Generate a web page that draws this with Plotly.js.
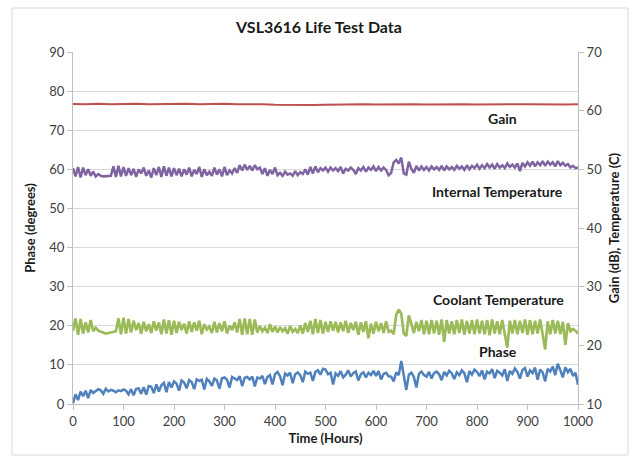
<!DOCTYPE html>
<html>
<head>
<meta charset="utf-8">
<script src="https://cdn.plot.ly/plotly-3.0.1.min.js"></script>
<style>html,body{margin:0;padding:0;background:#fff;}#chart{width:638px;height:457px;}</style>
</head>
<body>
<div id="chart"></div>
<script>
// Time step of the logged samples (hours)
const stepFine = 5;
const stepGain = 25;

// Phase (degrees), t = 0..1000 every 5 h
const phase = [
0.2,2.5,1.0,3.2,2.0,3.4,1.5,3.6,2.8,3.3,3.8,
3.5,2.6,3.9,3.2,3.6,3.4,3.0,3.5,3.3,3.7,
3.4,2.5,3.8,2.2,3.9,4.0,2.6,4.3,2.4,4.6,
4.4,2.8,5.0,3.2,4.8,5.4,3.0,5.6,4.2,5.8,
5.2,3.4,6.0,5.5,4.0,6.1,5.6,3.8,6.3,5.9,
6.2,3.7,6.4,5.8,4.6,6.5,6.0,3.9,6.6,6.8,
6.2,4.2,6.9,6.4,6.1,7.1,4.6,6.7,6.9,6.3,
7.0,4.5,6.8,6.5,7.2,5.1,6.9,7.4,5.0,7.6,
8.2,7.1,4.8,7.8,7.3,8.0,5.3,7.6,8.1,7.4,
5.6,8.3,7.7,8.0,5.9,8.2,8.6,7.5,9.0,8.8,
7.6,8.0,5.0,7.8,7.2,8.4,6.8,7.5,8.6,7.0,
7.9,8.3,6.0,7.6,8.1,6.8,8.0,7.4,8.5,7.2,
8.4,6.3,7.7,8.0,7.1,7.0,5.8,8.1,7.4,11.0,
7.2,3.6,7.5,8.0,6.9,4.2,7.7,8.3,7.4,7.0,
8.2,6.5,7.9,8.3,7.6,6.1,8.2,7.3,8.5,7.8,
6.4,8.1,7.4,8.6,7.9,5.6,8.4,7.5,8.8,8.2,
7.1,8.6,6.3,8.3,7.8,8.9,6.6,8.5,8.0,7.3,
8.9,5.9,8.4,7.7,9.1,8.2,6.5,8.7,9.2,7.0,
8.6,7.9,9.3,6.2,8.8,8.1,5.8,9.0,8.3,9.6,
7.4,10.3,8.6,6.8,9.4,8.1,9.0,7.2,8.0,4.9
];

// Coolant Temperature (C), t = 0..1000 every 5 h
const coolant = [
22.5,24.6,21.8,24.5,22.0,23.9,22.2,24.3,22.4,23.0,22.5,
22.3,22.1,22.0,22.1,22.2,22.3,22.4,24.6,21.9,24.7,
22.0,24.5,22.2,24.2,22.6,23.8,22.0,24.0,22.4,23.6,
22.1,24.1,22.5,23.9,21.9,24.4,22.0,24.3,21.8,24.2,
22.1,24.0,22.6,23.7,22.0,24.1,22.3,23.9,22.5,24.2,
21.9,23.6,22.7,23.2,22.1,24.0,22.2,23.8,22.4,24.1,
22.0,23.4,22.6,23.9,22.2,24.5,21.8,24.6,21.9,24.5,
21.8,24.4,22.2,23.3,22.4,23.0,22.1,23.6,22.3,23.2,
22.2,23.1,22.4,22.9,22.0,23.3,22.3,22.8,22.1,23.4,
22.0,23.8,22.3,24.2,21.9,24.5,22.1,24.3,22.0,24.0,
22.3,24.1,22.5,24.0,22.2,23.9,22.4,24.2,22.1,23.8,
22.6,24.0,21.8,23.9,22.3,24.1,21.2,23.7,22.0,24.0,
22.4,23.8,22.1,24.1,22.3,22.5,21.9,25.2,26.1,25.4,
22.0,21.6,25.1,23.6,22.1,24.0,22.4,24.3,21.9,24.2,
21.9,24.3,22.0,24.2,21.8,24.4,20.6,24.3,22.0,24.1,
21.9,24.3,22.1,24.4,21.8,24.2,22.0,24.3,21.9,24.4,
22.0,24.2,21.9,24.3,21.7,24.4,22.0,24.1,21.9,24.3,
21.8,19.6,24.2,22.0,24.3,21.9,24.2,22.1,24.4,21.8,
24.3,21.9,24.2,22.0,24.4,21.8,19.3,24.1,21.9,24.3,
22.0,24.2,21.9,24.0,20.1,23.8,22.4,22.8,22.5,22.0
];

// Internal Temperature (C), t = 0..1000 every 5 h
const internalTemp = [
50.2,48.8,50.4,48.6,50.3,49.0,50.0,48.9,49.6,48.8,49.2,
48.9,48.8,48.8,48.9,48.9,50.5,48.7,50.6,48.8,50.4,
48.9,50.2,49.0,50.1,48.7,50.0,49.3,50.3,48.9,49.8,
48.6,50.2,49.0,50.4,48.7,50.5,48.9,50.3,48.8,50.2,
49.0,50.1,48.8,50.0,49.1,50.3,48.8,49.9,49.2,50.4,
48.7,50.0,49.0,49.6,48.9,50.3,49.1,50.0,48.8,50.4,
49.0,49.8,49.3,50.2,49.4,50.7,49.8,50.8,49.9,50.6,
49.8,50.7,50.0,50.3,49.2,50.2,48.9,49.9,49.2,50.3,
49.0,49.4,48.9,49.6,49.1,49.3,48.9,49.7,49.0,49.5,
49.2,50.0,49.1,50.4,49.3,50.5,49.5,50.2,49.8,50.3,
49.6,50.3,49.8,50.2,49.7,50.4,49.3,50.1,49.8,50.3,
49.9,49.2,50.2,49.8,50.4,49.6,50.3,49.9,50.5,49.7,
50.4,49.8,50.3,49.9,49.0,49.4,51.2,51.6,51.0,52.0,
49.3,49.1,51.3,50.1,49.4,50.6,49.8,50.5,49.9,50.4,
49.8,50.5,50.0,50.4,49.9,50.6,49.8,50.5,50.0,50.4,
49.9,50.6,50.1,50.5,49.9,50.7,50.0,50.6,50.2,50.8,
50.1,50.7,50.2,50.9,50.3,50.8,50.1,50.9,50.3,50.7,
50.2,51.0,50.4,50.8,50.3,51.0,49.7,51.1,50.5,51.2,
50.6,51.3,50.5,51.2,50.7,51.4,50.6,51.3,50.8,51.2,
50.5,51.4,50.7,51.1,50.6,50.9,50.3,50.6,50.2,50.3
];

// Gain (dB), t = 0..1000 every 25 h
const gain = [
61.15,61.1,61.2,61.1,61.15,61.2,61.1,61.15,61.1,61.2,61.1,61.15,61.2,61.1,61.15,61.1,
61.0,60.95,61.0,60.95,61.0,
61.05,61.0,61.1,61.05,61.1,61.15,61.1,61.05,61.1,61.05,
61.1,61.05,61.1,61.05,61.1,61.1,61.05,61.1,61.05,61.1
];

const xTicks = [0,100,200,300,400,500,600,700,800,900,1000];

const tFine = phase.map((_, i) => i * stepFine);
const tGain = gain.map((_, i) => i * stepGain);

const FONT = 'Lato, "Open Sans", "Liberation Sans", sans-serif';
const TXT = '#404040';

const traces = [
  {x: tGain, y: gain, yaxis: 'y2', mode: 'lines', name: 'Gain',
   line: {color: '#c0504d', width: 2}},
  {x: tFine, y: internalTemp, yaxis: 'y2', mode: 'lines', name: 'Internal Temperature',
   line: {color: '#8064a2', width: 2.5}},
  {x: tFine, y: coolant, yaxis: 'y2', mode: 'lines', name: 'Coolant Temperature',
   line: {color: '#9bbb59', width: 2.7}},
  {x: tFine, y: phase, yaxis: 'y', mode: 'lines', name: 'Phase',
   line: {color: '#4f81bd', width: 2.5}}
];

const annFont = {family: FONT, size: 14, color: '#1a1a1a'};
const layout = {
  width: 638, height: 457,
  margin: {l: 73, r: 60, t: 52, b: 53},
  paper_bgcolor: '#ffffff', plot_bgcolor: '#ffffff',
  showlegend: false,
  font: {family: FONT, size: 13, color: TXT},
  title: {text: '<b>VSL3616 Life Test Data</b>', x: 0.5, xanchor: 'center', y: 0.94, yanchor: 'middle',
          font: {family: FONT, size: 16, color: '#1a1a1a'}},
  xaxis: {range: [0, 1000], tickvals: xTicks, ticks: 'outside', ticklen: 5, tickcolor: '#bfbfbf',
          showline: true, linecolor: '#bfbfbf', linewidth: 1, showgrid: false, zeroline: false,
          tickfont: {family: FONT, size: 13, color: TXT},
          title: {text: '<b>Time (Hours)</b>', font: {family: FONT, size: 13, color: '#1a1a1a'}, standoff: 6}},
  yaxis: {range: [0, 90], dtick: 10, ticks: 'outside', ticklen: 5, tickcolor: '#bfbfbf',
          showline: true, linecolor: '#bfbfbf', linewidth: 1, showgrid: true, gridcolor: '#d9d9d9', zeroline: false,
          tickfont: {family: FONT, size: 13, color: TXT},
          title: {text: '<b>Phase (degrees)</b>', font: {family: FONT, size: 13, color: '#1a1a1a'}, standoff: 10}},
  yaxis2: {range: [10, 70], dtick: 10, overlaying: 'y', side: 'right', ticks: 'outside', ticklen: 5, tickcolor: '#bfbfbf',
          showline: true, linecolor: '#bfbfbf', linewidth: 1, showgrid: false, zeroline: false,
          tickfont: {family: FONT, size: 13, color: TXT},
          title: {text: '<b>Gain (dB), Temperature (C)</b>', font: {family: FONT, size: 13, color: '#1a1a1a'}, standoff: 8}},
  annotations: [
    {x: 851, y: 73.0, xref: 'x', yref: 'y', text: '<b>Gain</b>', showarrow: false, font: annFont},
    {x: 840, y: 54.3, xref: 'x', yref: 'y', text: '<b>Internal Temperature</b>', showarrow: false, font: annFont},
    {x: 842, y: 26.6, xref: 'x', yref: 'y', text: '<b>Coolant Temperature</b>', showarrow: false, font: annFont},
    {x: 842, y: 13.3, xref: 'x', yref: 'y', text: '<b>Phase</b>', showarrow: false, font: annFont}
  ],
  shapes: [
    {type: 'rect', xref: 'paper', yref: 'paper', x0: -0.121, x1: 1.099, y0: -0.145, y1: 1.125,
     line: {color: '#d9d9d9', width: 1}, fillcolor: 'rgba(0,0,0,0)', layer: 'below'}
  ]
};

Plotly.newPlot('chart', traces, layout, {displayModeBar: false, staticPlot: true});
</script>
</body>
</html>
